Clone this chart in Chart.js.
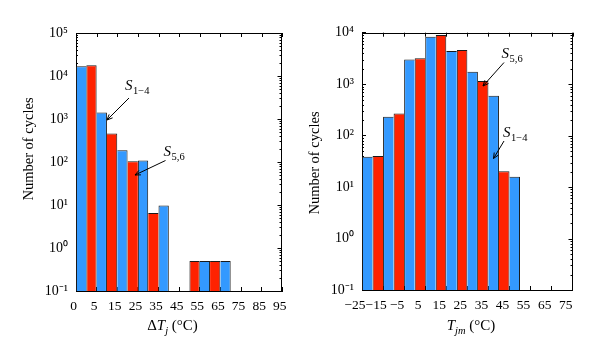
<!DOCTYPE html>
<html><head><meta charset="utf-8">
<script src="https://cdn.jsdelivr.net/npm/chart.js@4.4.0/dist/chart.umd.min.js"></script>
<style>
html,body{margin:0;padding:0;background:#fff;}
#wrap{position:relative;width:600px;height:357px;background:#fff;}
.box{position:absolute;top:0;width:300px;height:357px;}
</style></head><body>
<div id="wrap">
<div class="box" style="left:0"><canvas id="c1"></canvas></div>
<div class="box" style="left:300px"><canvas id="c2"></canvas></div>
</div>
<script>
// ---- data ----
const groupIndex = [0, 1, 2, 3, 4, 5, 6, 7, 8, 9];
const dTjTickLabels = ['0', '5', '15', '25', '35', '45', '55', '65', '75', '85', '95'];
const tjmTickLabels = ['\u221225', '\u221215', '\u22125', '5', '15', '25', '35', '45', '55', '65', '75'];
// S1-4 (blue) and S5,6 (red), number of cycles per bin
const dTjS14 = [16800, 1410, 187, 108, 9.7, null, 0.5, 0.5, null, null];
const dTjS56 = [17700, 457, 104, 6.5, null, 0.5, 0.5, null, null, null];
const tjmS14 = [39, 232, 3030, 8360, 4400, 1740, 594, 15.8, null, null];
const tjmS56 = [40, 270, 3180, 9020, 4600, 1150, 20.4, null, null, null];
const leftYTickValues = [0.1, 1, 10, 100, 1000, 10000, 100000];
const leftYTickLabels = ['10\u207B\u00B9', '10\u2070', '10\u00B9', '10\u00B2', '10\u00B3', '10\u2074', '10\u2075'];
const rightYTickValues = [0.1, 1, 10, 100, 1000, 10000];
const rightYTickLabels = ['10\u207B\u00B9', '10\u2070', '10\u00B9', '10\u00B2', '10\u00B3', '10\u2074'];

const SERIF = '"Liberation Serif", "Times New Roman", serif';
const BLUE = '#3399ff';
const RED = '#ff2200';
const EDGE = '#1a1a1a';

function drawRich(ctx, parts, cx, baseline) {
  let total = 0;
  parts.forEach(p => { ctx.font = p.f; p.w = ctx.measureText(p.t).width; total += p.w; });
  let x = cx - total / 2;
  ctx.textAlign = 'left'; ctx.textBaseline = 'alphabetic';
  parts.forEach(p => { ctx.font = p.f; ctx.fillText(p.t, x, baseline + (p.dy || 0)); x += p.w; });
}
function drawS(ctx, x, y, sub) {
  ctx.textAlign = 'left'; ctx.textBaseline = 'alphabetic';
  ctx.font = 'italic 15px ' + SERIF;
  ctx.fillText('S', x, y);
  const w = ctx.measureText('S').width;
  ctx.font = '10.5px ' + SERIF;
  ctx.fillText(sub, x + w + 0.5, y + 4);
}
function arrow(ctx, x1, y1, x2, y2) {
  const a = Math.atan2(y2 - y1, x2 - x1), L = 6, s = 0.42;
  ctx.beginPath();
  ctx.moveTo(x1, y1); ctx.lineTo(x2, y2);
  ctx.moveTo(x2 - L * Math.cos(a - s), y2 - L * Math.sin(a - s)); ctx.lineTo(x2, y2);
  ctx.lineTo(x2 - L * Math.cos(a + s), y2 - L * Math.sin(a + s));
  ctx.stroke();
}

const decor = {
  id: 'decor',
  beforeDatasetsDraw(chart) {
    const {ctx, chartArea: a, scales: {x, y}} = chart;
    ctx.save();
    ctx.strokeStyle = '#000'; ctx.lineWidth = 1;
    ctx.beginPath();
    const top = Math.round(a.top) + 0.5, right = Math.round(a.right) - 0.5;
    ctx.moveTo(a.left, top); ctx.lineTo(right + 0.5, top);
    ctx.moveTo(right, a.top); ctx.lineTo(right, a.bottom);
    x.ticks.forEach(t => {
      const px = Math.round(x.getPixelForValue(t.value)) + 0.5;
      ctx.moveTo(px, a.top); ctx.lineTo(px, a.top + 4);
    });
    y.ticks.forEach(t => {
      const py = Math.round(y.getPixelForValue(t.value)) + 0.5;
      ctx.moveTo(right, py); ctx.lineTo(right - 4, py);
    });
    for (let e = -1; e < Math.log10(y.max); e++) {
      for (let m = 2; m <= 9; m++) {
        const py = Math.round(y.getPixelForValue(m * Math.pow(10, e))) + 0.5;
        ctx.moveTo(right, py); ctx.lineTo(right - 2, py);
        ctx.moveTo(a.left, py); ctx.lineTo(a.left + 2, py);
      }
    }
    ctx.stroke();
    ctx.restore();
  },
  afterDraw(chart) {
    const {ctx} = chart;
    const p = chart.options.plugins.decor;
    ctx.save();
    ctx.fillStyle = '#000'; ctx.strokeStyle = '#000'; ctx.lineWidth = 1;
    ctx.save();
    ctx.translate(p.yTitle.x, p.yTitle.y);
    ctx.rotate(-Math.PI / 2);
    ctx.font = '14.5px ' + SERIF; ctx.textAlign = 'center'; ctx.textBaseline = 'alphabetic';
    ctx.fillText('Number of cycles', 0, 0);
    ctx.restore();
    drawRich(ctx, p.xTitle.parts, p.xTitle.x, p.xTitle.y);
    p.notes.forEach(n => {
      drawS(ctx, n.sx, n.sy, n.sub);
      arrow(ctx, n.a[0], n.a[1], n.a[2], n.a[3]);
    });
    ctx.restore();
  }
};

function buildChart(id, p) {
  const mk = (vals) => vals.map((v, i) => ({x: groupIndex[i] + 0.5, y: v}));
  // bars laid out left to right: slot 2g = S1-4 of group g, slot 2g+1 = S5,6 of group g
  const slotVal = (s) => {
    if (s < 0 || s >= 2 * groupIndex.length) return null;
    const g = Math.floor(s / 2);
    return s % 2 === 0 ? p.s14[g] : p.s56[g];
  };
  const edges = (c) => {
    const s = 2 * c.dataIndex + c.datasetIndex;
    const v = slotVal(s), prev = slotVal(s - 1), next = slotVal(s + 1);
    return {
      top: 1, bottom: 0,
      left: (prev == null || prev < v) ? 1 : 0,
      right: (next == null || next <= v) ? 1 : 0
    };
  };
  const barStyle = {
    borderColor: EDGE, borderWidth: edges, borderSkipped: 'start',
    barPercentage: 1, categoryPercentage: 1, inflateAmount: 0
  };
  return new Chart(document.getElementById(id), {
    type: 'bar',
    data: {
      datasets: [
        Object.assign({label: 'S1\u20134', data: mk(p.s14), backgroundColor: BLUE}, barStyle),
        Object.assign({label: 'S5,6', data: mk(p.s56), backgroundColor: RED}, barStyle)
      ]
    },
    options: {
      responsive: true, maintainAspectRatio: false, animation: false,
      devicePixelRatio: 1,
      layout: {padding: {left: 0, top: p.area.top, right: 300 - p.area.right, bottom: 0}},
      plugins: {
        legend: {display: false}, title: {display: false}, tooltip: {enabled: false},
        decor: p.decor
      },
      scales: {
        x: {
          type: 'linear', position: 'bottom', min: 0, max: 10, offset: false,
          afterBuildTicks: s => { s.ticks = p.xLabels.map((_, i) => ({value: i})); },
          afterFit: s => { s.height = 357 - p.area.bottom; },
          ticks: {
            autoSkip: false, maxRotation: 0, padding: 11, labelOffset: p.labelOffset,
            color: '#000', font: {family: SERIF, size: 13.5},
            callback: (v, i) => p.xLabels[i]
          },
          grid: {offset: false, drawOnChartArea: false, drawTicks: true, tickLength: -4, color: '#000', tickColor: '#000'},
          border: {display: true, color: '#000', width: 1}
        },
        y: {
          type: 'logarithmic', position: 'left', min: 0.1, max: p.yVals[p.yVals.length - 1],
          afterBuildTicks: s => { s.ticks = p.yVals.map(v => ({value: v, major: true})); },
          afterFit: s => { s.width = p.area.left; },
          ticks: {
            padding: 12, color: '#000', font: {family: SERIF, size: 14},
            callback: (v, i) => p.yLabels[i]
          },
          grid: {drawOnChartArea: false, drawTicks: true, tickLength: -4, color: '#000', tickColor: '#000'},
          border: {display: true, color: '#000', width: 1}
        }
      }
    },
    plugins: [decor]
  });
}

buildChart('c1', {
  s14: dTjS14, s56: dTjS56,
  xLabels: dTjTickLabels, yVals: leftYTickValues, yLabels: leftYTickLabels,
  area: {left: 76, right: 286.5, top: 33, bottom: 291},
  labelOffset: -2.5,
  decor: {
    yTitle: {x: 32.5, y: 149},
    xTitle: {x: 172.5, y: 330, parts: [
      {t: '\u0394', f: '15px ' + SERIF},
      {t: 'T', f: 'italic 15px ' + SERIF},
      {t: 'j', f: 'italic 10.5px ' + SERIF, dy: 3.5},
      {t: ' (\u00B0C)', f: '15px ' + SERIF}
    ]},
    notes: [
      {sx: 125, sy: 90, sub: '1\u22124', a: [129, 98, 107, 120]},
      {sx: 163.5, sy: 155.5, sub: '5,6', a: [165.5, 160.5, 135, 175]}
    ]
  }
});

buildChart('c2', {
  s14: tjmS14, s56: tjmS56,
  xLabels: tjmTickLabels, yVals: rightYTickValues, yLabels: rightYTickLabels,
  area: {left: 62, right: 272.7, top: 32.7, bottom: 290},
  labelOffset: -7,
  decor: {
    yTitle: {x: 18.5, y: 163},
    xTitle: {x: 171, y: 330, parts: [
      {t: 'T', f: 'italic 15px ' + SERIF},
      {t: 'jm', f: 'italic 10.5px ' + SERIF, dy: 3.5},
      {t: ' (\u00B0C)', f: '15px ' + SERIF}
    ]},
    notes: [
      {sx: 201.5, sy: 58.3, sub: '5,6', a: [204, 62.5, 183, 86]},
      {sx: 203, sy: 136.7, sub: '1\u22124', a: [204, 141, 193.5, 158.5]}
    ]
  }
});
</script>
</body></html>
